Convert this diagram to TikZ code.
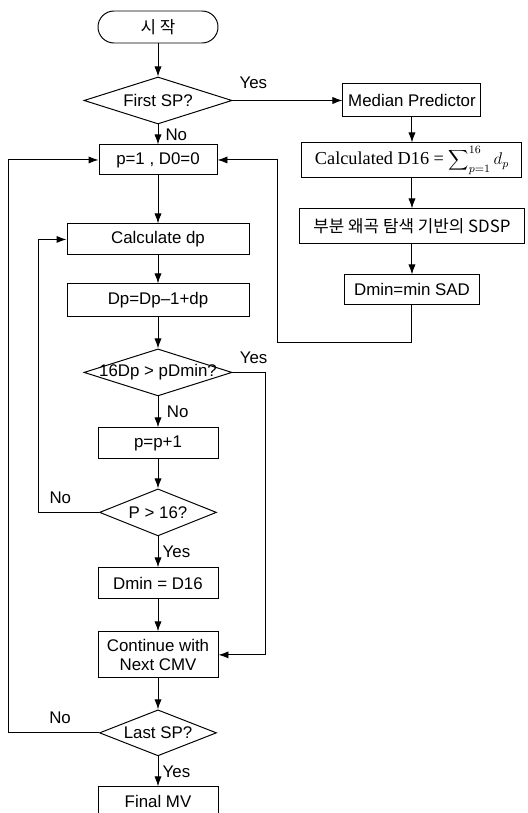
\documentclass[tikz,border=0pt]{standalone}
\usepackage{fontspec}
\setmainfont{Liberation Sans}
\newfontfamily\korfont{Noto Sans CJK KR}
\newfontfamily\calcfont{Liberation Serif}
\usetikzlibrary{positioning,shapes.geometric,arrows.meta}

\begin{document}
\begin{tikzpicture}[
    font=\fontsize{12}{14}\selectfont,
    line width=0.7pt,
    box/.style={rectangle, draw, minimum width=3cm, minimum height=0.775cm, inner sep=0pt, align=center},
    decision/.style={diamond, draw, aspect=3, minimum width=2.925cm, minimum height=1.175cm, inner sep=0pt},
    terminal/.style={rectangle, draw, rounded corners=0.4cm, minimum width=3cm, minimum height=0.8cm},
    arrow/.style={-{Latex[length=2.5mm,width=1.8mm]}},
    lbl/.style={inner sep=1pt}
]
    \useasboundingbox (0,0) rectangle (13.2,-20.325);

    % Nodes (main column)
    \node[terminal] (start) at (3.95,-0.675) {\korfont 시 작};
    \node[decision, minimum width=3.7cm, below=0.825cm of start] (first) {First SP?};
    \node[box, minimum width=2.95cm, minimum height=0.75cm, below=0.5cm of first] (init) {p=1 , D0=0};
    \node[box, minimum width=4.55cm, below=1.2cm of init] (calc) {Calculate dp};
    \node[box, minimum width=4.55cm, minimum height=0.825cm, below=0.7cm of calc] (accum) {Dp=Dp--1+dp};
    \node[decision, minimum width=3.7cm, inner xsep=-0.3cm, below=0.775cm of accum] (cmp) {16Dp > pDmin?};
    \node[box, below=0.775cm of cmp] (inc) {p=p+1};
    \node[decision, below=0.725cm of inc] (check) {P > 16?};
    \node[box, below=0.775cm of check] (setmin) {Dmin = D16};
    \node[box, minimum height=1.15cm, below=0.8cm of setmin] (cont) {Continue with\\Next CMV};
    \node[decision, minimum height=1.15cm, below=0.775cm of cont] (last) {Last SP?};
    \node[box, minimum height=0.75cm, below=0.75cm of last] (final) {Final MV};

    % Nodes (right column)
    \node[box, minimum width=3.45cm, minimum height=0.825cm, right=2.75cm of first] (median) {Median Predictor};
    \node[box, minimum width=5.5cm, minimum height=0.875cm, below=0.625cm of median] (sumd) {{\calcfont\fontsize{13}{14}\selectfont Calculated D16 = }$\displaystyle\sum\nolimits_{p=1}^{16} d_p$};
    \node[box, minimum width=5.6cm, minimum height=0.875cm, below=0.75cm of sumd] (sdsp) {\korfont 부분 왜곡 탐색 기반의 SDSP};
    \node[box, minimum width=3.375cm, minimum height=0.75cm, below=0.75cm of sdsp] (minsad) {Dmin=min SAD};

    % Arrows
    \draw[arrow] (start) -- (first);
    \draw[arrow] (first) -- node[lbl, right=4pt] (no1) {No} (init);
    \draw[arrow] (first) -- node[lbl, pos=0.19, above=7pt] (yes1) {Yes} (median);
    \draw[arrow] (init) -- (calc);
    \draw[arrow] (calc) -- (accum);
    \draw[arrow] (accum) -- (cmp);
    \draw[arrow] (cmp) -- node[lbl, right=5pt] (no2) {No} (inc);
    \draw[arrow] (inc) -- (check);
    \draw[arrow] (check) -- node[lbl, right=2pt] (yes3) {Yes} (setmin);
    \draw[arrow] (setmin) -- (cont);
    \draw[arrow] (cont) -- (last);
    \draw[arrow] (last) -- node[lbl, right=2pt] (yes4) {Yes} (final);
    \draw[arrow] (median) -- (sumd);
    \draw[arrow] (sumd) -- (sdsp);
    \draw[arrow] (sdsp) -- (minsad);

    % Loops
    \draw[arrow] (minsad.south) -- ++(0,-0.925) -| ([xshift=1.5cm]init.east) -- (init.east);
    \draw[arrow] (cmp.east) -- node[lbl, pos=0.64, above=5pt] (yes2) {Yes} ++(0.825,0) |- (cont.east);
    \draw[arrow] (check.west) -| node[lbl, pos=0.32, above=5pt] (no3) {No} ([xshift=-0.7cm]calc.west) -- (calc.west);
    \draw[arrow] (last.west) -| node[lbl, pos=0.215, above=5pt] (no4) {No} ([xshift=-2.25cm]init.west) -- (init.west);
\end{tikzpicture}
\end{document}
